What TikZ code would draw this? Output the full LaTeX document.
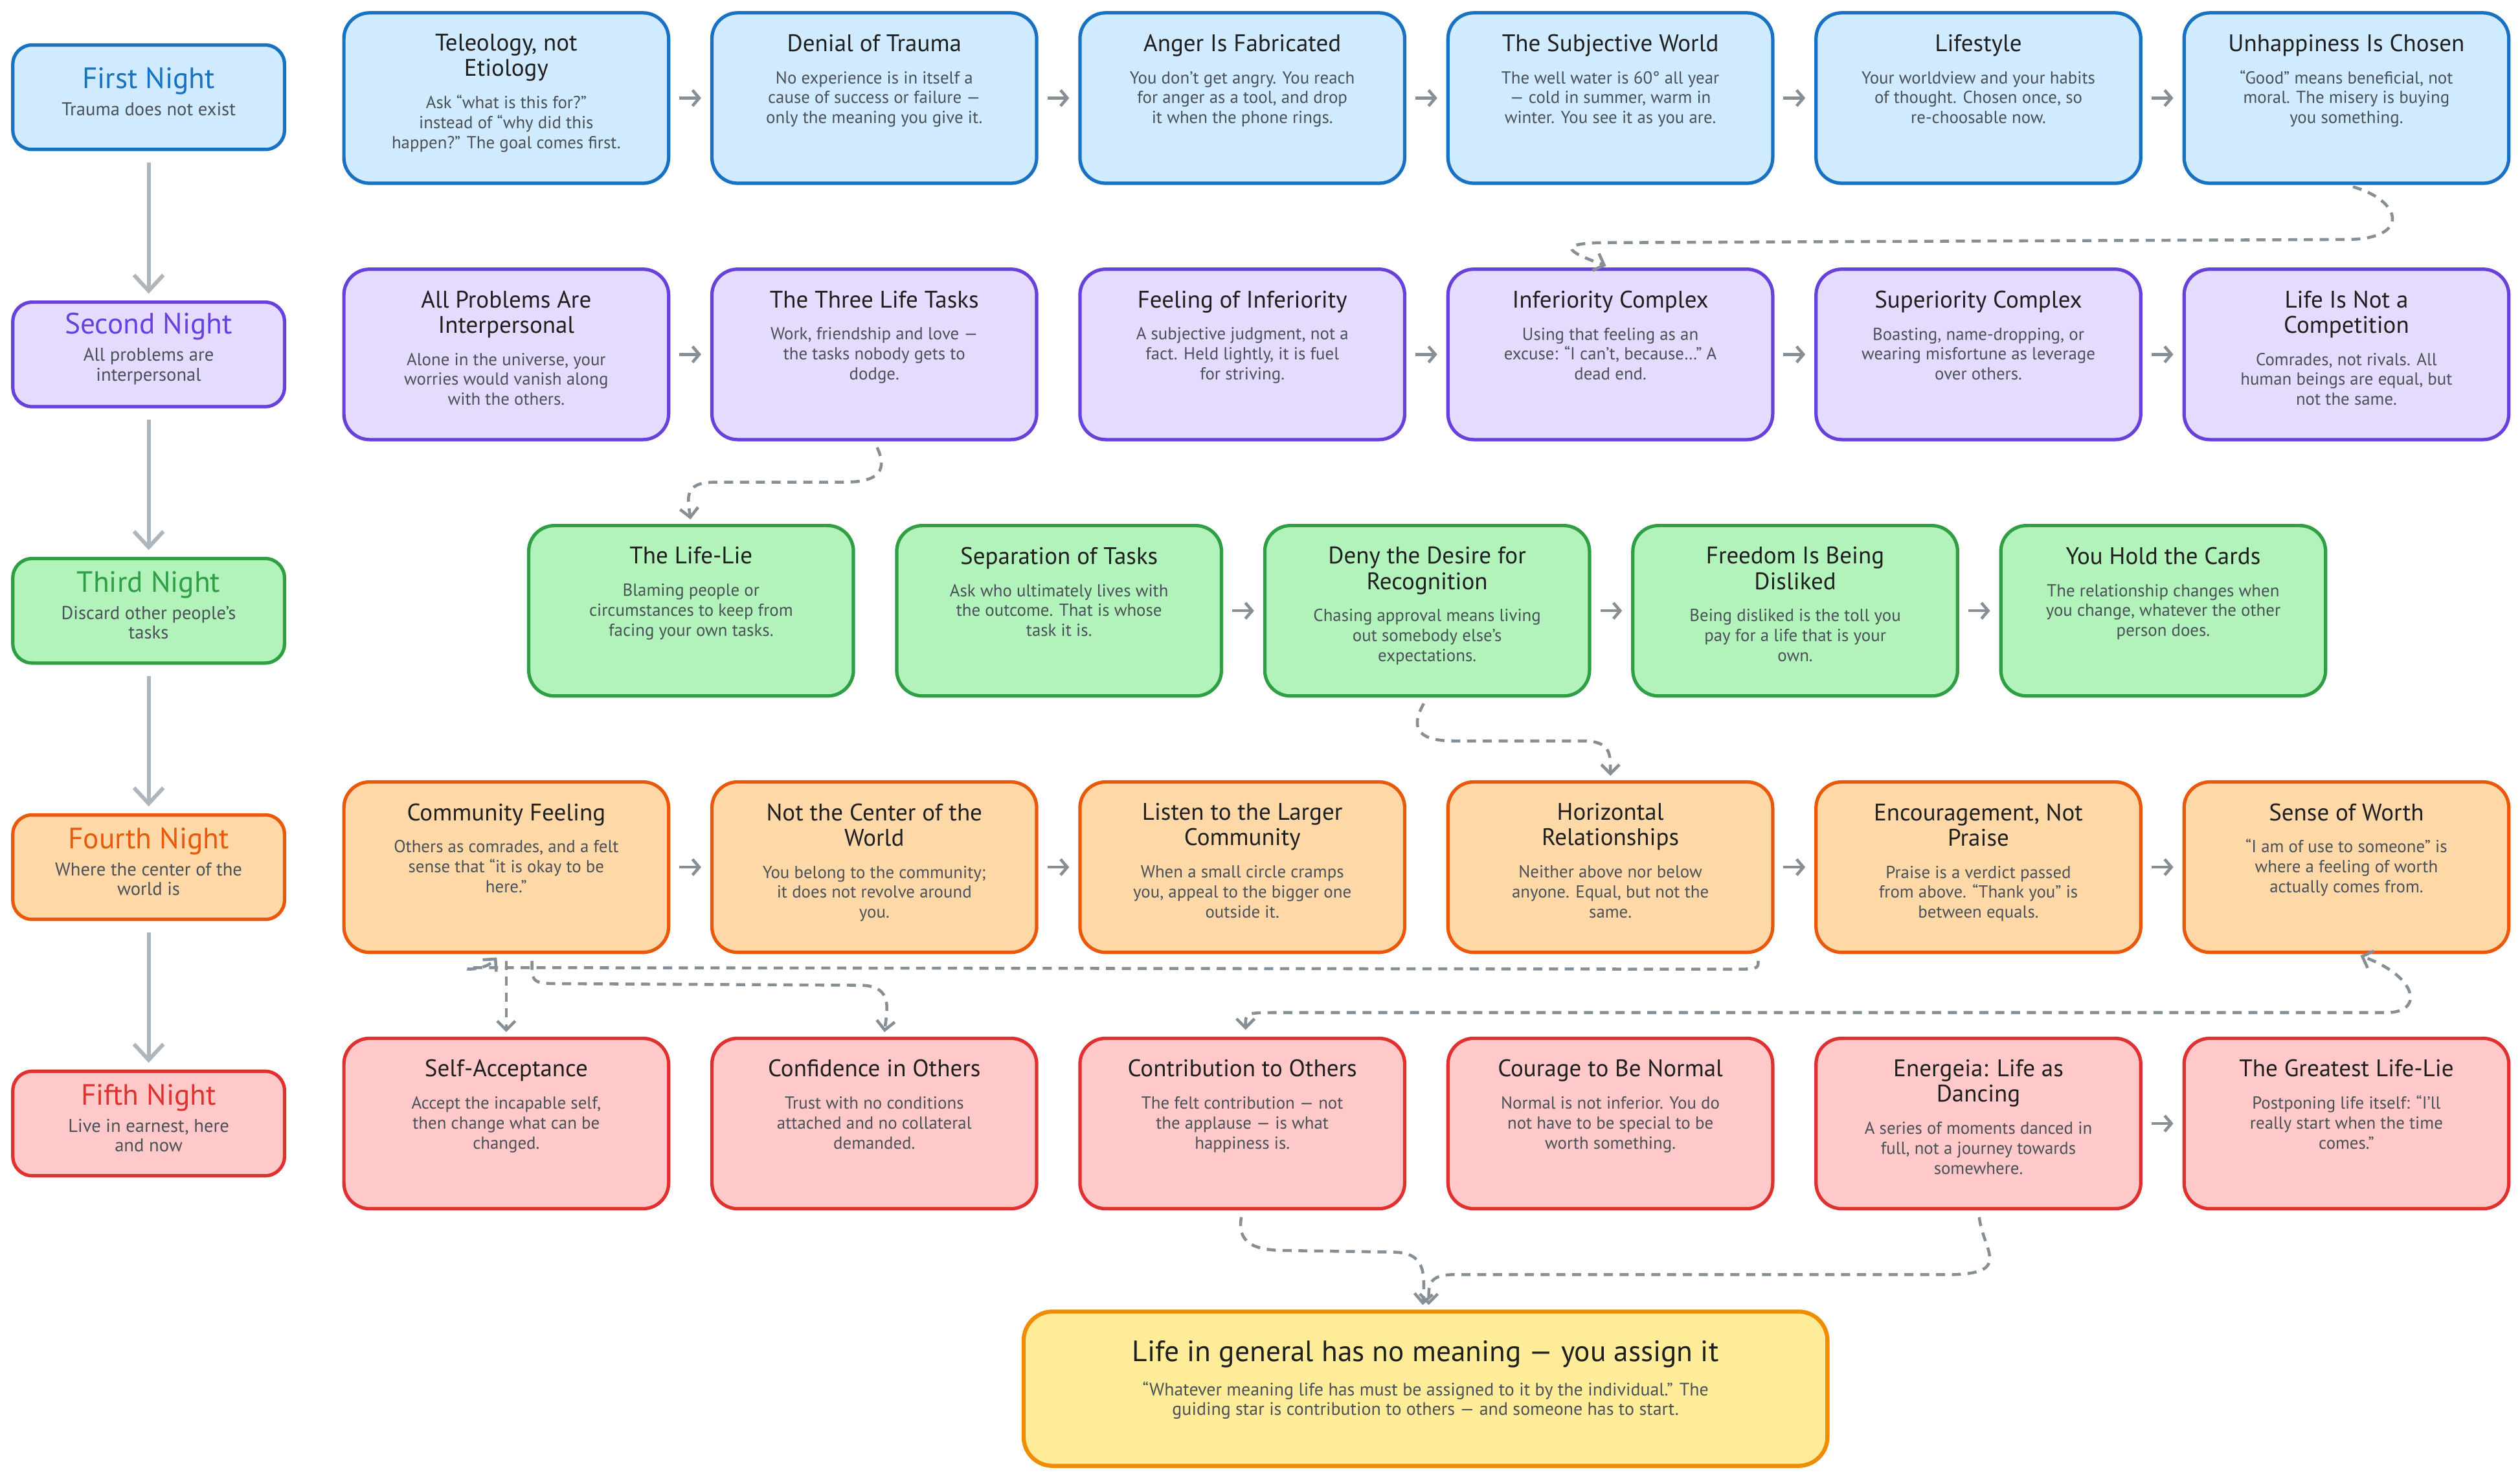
\documentclass[tikz,border=0pt]{standalone}
\usepackage{fontspec}
\setmainfont{PT Sans}
\usepackage{tikz}
\usetikzlibrary{arrows.meta, calc, positioning}

\definecolor{blueInk}{HTML}{1971C2}
\definecolor{blueFill}{HTML}{D0EBFF}
\definecolor{violetInk}{HTML}{6741D9}
\definecolor{violetFill}{HTML}{E5DBFF}
\definecolor{greenInk}{HTML}{2F9E44}
\definecolor{greenFill}{HTML}{B2F2BB}
\definecolor{orangeInk}{HTML}{E8590C}
\definecolor{orangeFill}{HTML}{FFD8A8}
\definecolor{redInk}{HTML}{E03131}
\definecolor{redFill}{HTML}{FFC9C9}
\definecolor{goldInk}{HTML}{F08C00}
\definecolor{goldFill}{HTML}{FFEC99}
\definecolor{inkDark}{HTML}{1E1E1E}
\definecolor{inkGray}{HTML}{495057}
\definecolor{arrowGray}{HTML}{868E96}
\definecolor{nightGray}{HTML}{ADB5BD}

\newcommand{\cardtitle}{\fontsize{10.6}{11.2}\selectfont\color{inkDark}}
\newcommand{\cardbody}{\fontsize{7.7}{8.8}\selectfont\color{inkGray}}
\newcommand{\cardtext}[2]{\parbox[c][2.65cm][t]{4.9cm}{\centering\vspace*{9.5pt}{\cardtitle #1\par}\vspace{5.5pt}{\cardbody #2\par}}}
\newcommand{\nighttext}[3]{\parbox{4.1cm}{\centering{\fontsize{13}{14}\selectfont\color{#1}#2\par}\vspace{3.5pt}{\fontsize{8.2}{8.6}\selectfont\color{inkGray}#3\par}\vspace{5pt}}}
\newcommand{\goaltext}[2]{\parbox[c][2.4cm][t]{12.2cm}{\centering\vspace*{13pt}{\fontsize{13}{14}\selectfont\color{inkDark}#1\par}\vspace{5pt}{\fontsize{8}{8.6}\selectfont\color{inkGray}#2\par}}}

\tikzset{
	card/.style={rectangle, rounded corners=0.4cm, line width=1.5pt, inner sep=0pt, draw=#1Ink, fill=#1Fill, minimum width=5.05cm, minimum height=2.65cm},
	night/.style={rectangle, rounded corners=0.3cm, line width=1.5pt, inner sep=0pt, draw=#1Ink, fill=#1Fill, minimum width=4.225cm, minimum height=1.625cm},
	goal/.style={rectangle, rounded corners=0.45cm, line width=1.8pt, inner sep=0pt, draw=goldInk, fill=goldFill, minimum width=12.5cm, minimum height=2.4cm},
	flow/.style={draw=arrowGray, line width=1.3pt, -{Straight Barb[length=3pt, width=7pt]}, shorten <=4pt, shorten >=4pt},
	jump/.style={draw=arrowGray, line width=1.3pt, dash pattern=on 4pt off 3pt, -{Straight Barb[length=4pt, width=8pt]}, shorten <=3pt, shorten >=2pt},
	descend/.style={draw=nightGray, line width=1.7pt, -{Straight Barb[length=7pt, width=13pt]}, shorten <=5pt, shorten >=3pt}
}

\begin{document}
\begin{tikzpicture}[x=0.025cm, y=-0.025cm]
	\fill[white] (0,0) rectangle (1568,920);
	\useasboundingbox (0,0) rectangle (1568,920);

	\node[night=blue] (first) at (92.5,60.5) {\nighttext{blueInk}{First Night}{Trauma does not exist}};
	\node[night=violet] (second) at (92.5,220.5) {\nighttext{violetInk}{Second Night}{All problems are\\interpersonal}};
	\node[night=green] (third) at (92.5,380) {\nighttext{greenInk}{Third Night}{Discard other people’s\\tasks}};
	\node[night=orange] (fourth) at (92.5,539.5) {\nighttext{orangeInk}{Fourth Night}{Where the center of the\\world is}};
	\node[night=red] (fifth) at (92.5,699) {\nighttext{redInk}{Fifth Night}{Live in earnest, here\\and now}};

	\draw[descend] (first) -- (second);
	\draw[descend] (second) -- (third);
	\draw[descend] (third) -- (fourth);
	\draw[descend] (fourth) -- (fifth);

	\node[card=blue] (tele) at (315,61) {\cardtext{Teleology, not\\Etiology}{Ask “what is this for?”\\instead of “why did this\\happen?” The goal comes first.}};
	\node[card=blue] (denial) at (544,61) {\cardtext{Denial of Trauma}{No experience is in itself a\\cause of success or failure —\\only the meaning you give it.}};
	\node[card=blue] (anger) at (773,61) {\cardtext{Anger Is Fabricated}{You don’t get angry. You reach\\for anger as a tool, and drop\\it when the phone rings.}};
	\node[card=blue] (subj) at (1002,61) {\cardtext{The Subjective World}{The well water is 60° all year\\— cold in summer, warm in\\winter. You see it as you are.}};
	\node[card=blue] (lifestyle) at (1231,61) {\cardtext{Lifestyle}{Your worldview and your habits\\of thought. Chosen once, so\\re-choosable now.}};
	\node[card=blue] (unhappy) at (1460,61) {\cardtext{Unhappiness Is Chosen}{“Good” means beneficial, not\\moral. The misery is buying\\you something.}};

	\node[card=violet] (interp) at (315,220.5) {\cardtext{All Problems Are\\Interpersonal}{Alone in the universe, your\\worries would vanish along\\with the others.}};
	\node[card=violet] (tasks) at (544,220.5) {\cardtext{The Three Life Tasks}{Work, friendship and love —\\the tasks nobody gets to\\dodge.}};
	\node[card=violet] (feelinf) at (773,220.5) {\cardtext{Feeling of Inferiority}{A subjective judgment, not a\\fact. Held lightly, it is fuel\\for striving.}};
	\node[card=violet] (infcomplex) at (1002,220.5) {\cardtext{Inferiority Complex}{Using that feeling as an\\excuse: “I can’t, because…” A\\dead end.}};
	\node[card=violet] (supcomplex) at (1231,220.5) {\cardtext{Superiority Complex}{Boasting, name-dropping, or\\wearing misfortune as leverage\\over others.}};
	\node[card=violet] (nocomp) at (1460,220.5) {\cardtext{Life Is Not a\\Competition}{Comrades, not rivals. All\\human beings are equal, but\\not the same.}};

	\node[card=green] (lifelie) at (430,380) {\cardtext{The Life-Lie}{Blaming people or\\circumstances to keep from\\facing your own tasks.}};
	\node[card=green] (separation) at (659,380) {\cardtext{Separation of Tasks}{Ask who ultimately lives with\\the outcome. That is whose\\task it is.}};
	\node[card=green] (recognition) at (888,380) {\cardtext{Deny the Desire for\\Recognition}{Chasing approval means living\\out somebody else’s\\expectations.}};
	\node[card=green] (disliked) at (1117,380) {\cardtext{Freedom Is Being\\Disliked}{Being disliked is the toll you\\pay for a life that is your\\own.}};
	\node[card=green] (cards) at (1346,380) {\cardtext{You Hold the Cards}{The relationship changes when\\you change, whatever the other\\person does.}};

	\node[card=orange] (community) at (315,539.5) {\cardtext{Community Feeling}{Others as comrades, and a felt\\sense that “it is okay to be\\here.”}};
	\node[card=orange] (center) at (544,539.5) {\cardtext{Not the Center of the\\World}{You belong to the community;\\it does not revolve around\\you.}};
	\node[card=orange] (larger) at (773,539.5) {\cardtext{Listen to the Larger\\Community}{When a small circle cramps\\you, appeal to the bigger one\\outside it.}};
	\node[card=orange] (horizontal) at (1002,539.5) {\cardtext{Horizontal\\Relationships}{Neither above nor below\\anyone. Equal, but not the\\same.}};
	\node[card=orange] (encourage) at (1231,539.5) {\cardtext{Encouragement, Not\\Praise}{Praise is a verdict passed\\from above. “Thank you” is\\between equals.}};
	\node[card=orange] (worth) at (1460,539.5) {\cardtext{Sense of Worth}{“I am of use to someone” is\\where a feeling of worth\\actually comes from.}};

	\node[card=red] (selfacc) at (315,699) {\cardtext{Self-Acceptance}{Accept the incapable self,\\then change what can be\\changed.}};
	\node[card=red] (confidence) at (544,699) {\cardtext{Confidence in Others}{Trust with no conditions\\attached and no collateral\\demanded.}};
	\node[card=red] (contribution) at (773,699) {\cardtext{Contribution to Others}{The felt contribution — not\\the applause — is what\\happiness is.}};
	\node[card=red] (normal) at (1002,699) {\cardtext{Courage to Be Normal}{Normal is not inferior. You do\\not have to be special to be\\worth something.}};
	\node[card=red] (energeia) at (1231,699) {\cardtext{Energeia: Life as\\Dancing}{A series of moments danced in\\full, not a journey towards\\somewhere.}};
	\node[card=red] (greatest) at (1460,699) {\cardtext{The Greatest Life-Lie}{Postponing life itself: “I’ll\\really start when the time\\comes.”}};

	\node[goal] (meaning) at (887,864) {\goaltext{Life in general has no meaning — you assign it}{“Whatever meaning life has must be assigned to it by the individual.” The\\guiding star is contribution to others — and someone has to start.}};

	\draw[flow] (tele) -- (denial);
	\draw[flow] (denial) -- (anger);
	\draw[flow] (anger) -- (subj);
	\draw[flow] (subj) -- (lifestyle);
	\draw[flow] (lifestyle) -- (unhappy);
	\draw[flow] (interp) -- (tasks);
	\draw[flow] (feelinf) -- (infcomplex);
	\draw[flow] (infcomplex) -- (supcomplex);
	\draw[flow] (supcomplex) -- (nocomp);
	\draw[flow] (separation) -- (recognition);
	\draw[flow] (recognition) -- (disliked);
	\draw[flow] (disliked) -- (cards);
	\draw[flow] (community) -- (center);
	\draw[flow] (center) -- (larger);
	\draw[flow] (horizontal) -- (encourage);
	\draw[flow] (encourage) -- (worth);
	\draw[flow] (energeia) -- (greatest);

	\draw[jump] (unhappy.south) .. controls (1495,125) and (1500,149) .. (1460,149) -- (995,151) .. controls (962,152) and (985,160) .. (infcomplex.north);
	\draw[jump] (tasks.south) .. controls (552,292) and (548,300) .. (525,300) -- (445,300) .. controls (425,300) and (428,310) .. (lifelie.north);
	\draw[jump] (recognition.south) .. controls (876,455) and (885,461) .. (905,461) -- (985,461) .. controls (1003,461) and (1002,470) .. (horizontal.north);
	\draw[jump] (community) -- (selfacc);
	\draw[jump] ([xshift=0.4cm]community.south) .. controls (331,612) .. (352,612) -- (535,613) .. controls (556,613) and (552,628) .. ([xshift=0.15cm]confidence.north);
	\draw[jump] ([xshift=2.3cm]horizontal.south) .. controls (1094,603) .. (1075,603) -- (300,602) .. controls (278,602) and (300,606) .. ([xshift=-0.1cm]community.south);
	\draw[jump, {Straight Barb[length=4pt, width=8pt]}-{Straight Barb[length=4pt, width=8pt]}] ([xshift=0.05cm]contribution.north) .. controls (775,630) .. (795,630) -- (1485,630) .. controls (1508,630) and (1505,608) .. ([xshift=0.15cm]worth.south);
	\draw[jump] (contribution.south) .. controls (770,772) and (778,778) .. (800,778) -- (866,779) .. controls (886,779) and (887,790) .. ([xshift=-0.05cm]meaning.north);
	\draw[jump] (energeia.south) .. controls (1234,778) and (1252,792) .. (1215,793) -- (905,793) .. controls (888,793) and (889,800) .. ([xshift=0.05cm]meaning.north);

\end{tikzpicture}
\end{document}
